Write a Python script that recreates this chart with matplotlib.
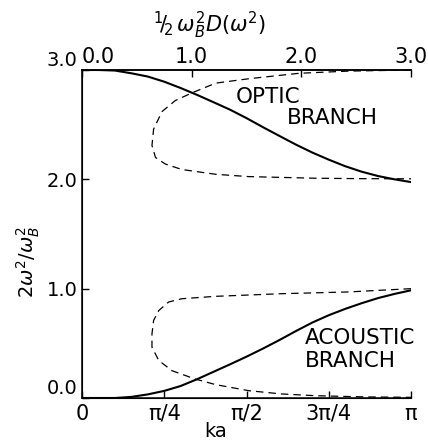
import numpy as np
import matplotlib
matplotlib.use("Agg")
import matplotlib.pyplot as plt

plt.rcParams['font.family'] = ['DejaVu Sans']
plt.rcParams['mathtext.fontset'] = 'dejavusans'

# Dispersion curves: ka in units of pi, value = 2 w^2 / w_B^2
ka_frac = [0.0, 0.05, 0.1, 0.15, 0.2, 0.25, 0.3, 0.35, 0.4, 0.45, 0.5,
           0.55, 0.6, 0.65, 0.7, 0.75, 0.8, 0.85, 0.9, 0.95, 1.0]
acoustic = [0.0, 0.0, 0.0, 0.01, 0.033, 0.065, 0.11, 0.172, 0.24, 0.308, 0.378,
            0.452, 0.53, 0.612, 0.69, 0.757, 0.815, 0.867, 0.914, 0.952, 0.985]
optic = [3.0, 3.0, 2.995, 2.97, 2.94, 2.893, 2.835, 2.772, 2.705, 2.637, 2.56,
         2.477, 2.397, 2.318, 2.245, 2.18, 2.12, 2.07, 2.03, 2.0, 1.975]

# Density of states (top axis): x = 1/2 w_B^2 D(w^2), y = 2 w^2 / w_B^2
dos_opt_x = [3.0, 2.43, 1.98, 1.52, 1.22, 1.0, 0.85, 0.73, 0.653, 0.638, 0.67, 0.76, 0.91, 1.22, 1.52, 2.13, 2.58, 3.0]
dos_opt_y = [3.0, 2.99, 2.97, 2.92, 2.88, 2.79, 2.72, 2.62, 2.46, 2.31, 2.20, 2.14, 2.09, 2.046, 2.025, 2.01, 2.006, 2.005]
dos_ac_x = [3.0, 2.43, 1.82, 1.22, 0.91, 0.79, 0.70, 0.653, 0.638, 0.638, 0.70, 0.82, 1.03, 1.22, 1.52, 1.82, 2.13, 2.58, 3.0]
dos_ac_y = [1.0, 0.97, 0.954, 0.93, 0.908, 0.878, 0.80, 0.71, 0.587, 0.465, 0.343, 0.25, 0.174, 0.122, 0.067, 0.037, 0.021, 0.01, 0.006]

bottom_ticks = [0.0, 0.25, 0.5, 0.75, 1.0]
bottom_labels = ['0', 'π/4', 'π/2', '3π/4', 'π']
y_ticks = [0.0, 1.0, 2.0, 3.0]
y_labels = ['0.0', '1.0', '2.0', '3.0']
top_ticks = [0.0, 1.0, 2.0, 3.0]
top_labels = ['0.0', '1.0', '2.0', '3.0']

W, H = 428, 442
fig = plt.figure(figsize=(W / 100, H / 100), dpi=100)
ax = fig.add_axes([82 / W, 1 - 398 / H, (411 - 82) / W, (398 - 70) / H])
ax.set_xlim(0, np.pi)
ax.set_ylim(0, 3.0)

ka = np.array(ka_frac) * np.pi
ax.plot(ka, acoustic, color='black', lw=1.5, solid_capstyle='round', solid_joinstyle='round')
ax.plot(ka, optic, color='black', lw=1.5, solid_capstyle='round', solid_joinstyle='round')

ax.set_xticks(np.array(bottom_ticks) * np.pi)
ax.set_xticklabels(bottom_labels, fontsize=15)
ax.set_yticks(y_ticks)
ax.set_yticklabels(y_labels, fontsize=14)
ax.tick_params(direction='in', length=5, width=1.0, pad=4)
ax.tick_params(axis='y', pad=3)
for sp in ['left', 'bottom', 'top']:
    ax.spines[sp].set_linewidth(1.1)
ax.spines['right'].set_visible(False)
ylabs = ax.get_yticklabels()
ylabs[0].set_va('bottom')
ylabs[-1].set_va('bottom')

ax2 = ax.twiny()
ax2.set_xlim(0, 3.0)
ax2.set_ylim(0, 3.0)
ax2.plot(dos_opt_x, dos_opt_y, color='black', lw=0.9, ls=(0, (6, 4)))
ax2.plot(dos_ac_x, dos_ac_y, color='black', lw=0.9, ls=(0, (6, 4)))
ax2.set_xticks(top_ticks)
ax2.set_xticklabels(top_labels, fontsize=15)
ax2.tick_params(direction='in', length=5, width=1.0, pad=2)
ax2.spines['right'].set_visible(False)
ax2.spines['top'].set_linewidth(1.1)
ax2.get_xticklabels()[0].set_ha('left')

fig.text(268 / W, 1 - 97 / H, 'OPTIC', fontsize=15.5, ha='center', va='center')
fig.text(287 / W, 1 - 117.5 / H, 'BRANCH', fontsize=15.5, ha='left', va='center')
fig.text(305 / W, 1 - 337.5 / H, 'ACOUSTIC', fontsize=15.5, ha='left', va='center')
fig.text(305 / W, 1 - 361 / H, 'BRANCH', fontsize=15.5, ha='left', va='center')

fig.text(28 / W, 1 - 262 / H, r'$2\omega^2/\omega_B^2$', rotation=90, fontsize=14, ha='center', va='center')
fig.text(210 / W, 1 - 25 / H, r'$^1\!/\!_2\,\omega_B^2D(\omega^2)$', fontsize=15, ha='center', va='center')
fig.text(216 / W, 1 / H, 'ka', fontsize=14, ha='center', va='bottom')

fig.savefig('out.png', dpi=100)
